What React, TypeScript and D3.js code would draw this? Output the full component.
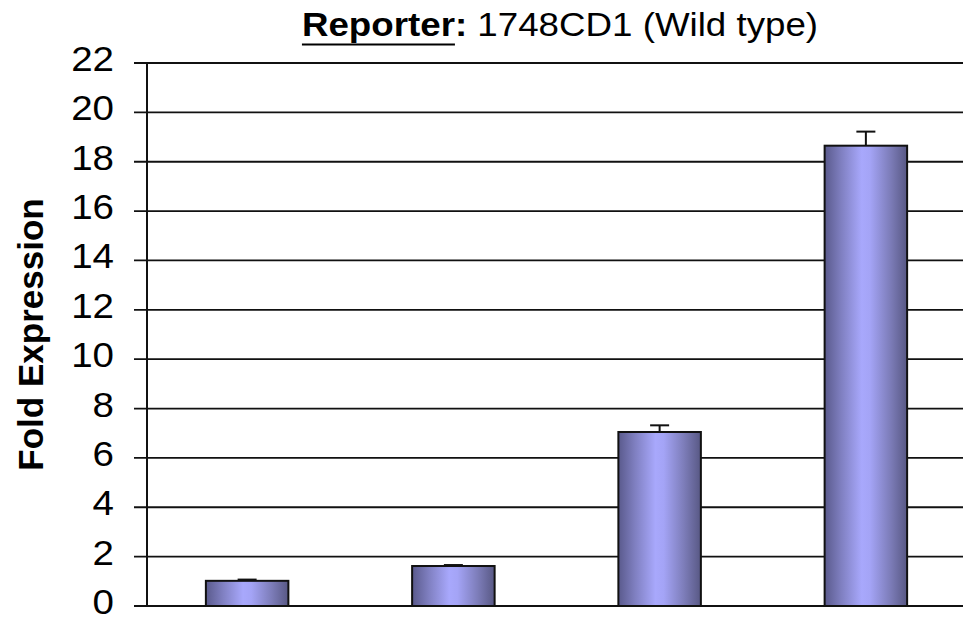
import React, { useLayoutEffect, useRef, useState } from "react";
import { scaleBand, scaleLinear, range } from "d3";

// Fold expression bar chart for the wild type reporter
const categories = ["A", "B", "C", "D"]; // no labels on the x axis
const values = [1.02, 1.62, 7.05, 18.65];
const errors = [0.05, 0.04, 0.27, 0.57];
const yTicks = range(0, 23, 2);

export default function App() {
  const width = 963;
  const height = 622;
  const margin = { top: 63, right: -6, bottom: 16, left: 147 };
  const font = "'Liberation Sans', Arial, Helvetica, sans-serif";

  const x = scaleBand<string>()
    .domain(categories)
    .range([margin.left - 3, width - margin.right])
    .paddingInner(0.6)
    .paddingOuter(0.3);

  const y = scaleLinear()
    .domain([0, 22])
    .range([height - margin.bottom, margin.top]);

  const titleRef = useRef<SVGTextElement>(null);
  const [underline, setUnderline] = useState<[number, number] | null>(null);

  useLayoutEffect(() => {
    const t = titleRef.current;
    if (!t) return;
    // "Reporter" = first 8 characters
    const first = t.getExtentOfChar(0);
    const last = t.getExtentOfChar(7);
    setUnderline([first.x, last.x + last.width]);
  }, []);

  const capW = 19;

  return (
    <svg
      width={width}
      height={height}
      style={{ position: "absolute", left: 0, top: 0, background: "#fff" }}
      fontFamily={font}
    >
      <defs>
        <linearGradient id="barFill" x1="0" x2="1" y1="0" y2="0">
          <stop offset="0%" stopColor="#5a5a8c" />
          <stop offset="20%" stopColor="#7f7fc0" />
          <stop offset="45%" stopColor="#a8a8fc" />
          <stop offset="55%" stopColor="#a4a4f6" />
          <stop offset="80%" stopColor="#7c7cb8" />
          <stop offset="100%" stopColor="#585884" />
        </linearGradient>
      </defs>

      {/* title */}
      <g transform={`translate(560,36) scale(1.08,1)`}>
        <text ref={titleRef} textAnchor="middle" fontSize={34} fill="#000">
          <tspan fontWeight="bold">Reporter:</tspan>
          <tspan> 1748CD1 (Wild type)</tspan>
        </text>
        {underline && (
          <line
            x1={underline[0]}
            x2={underline[1]}
            y1={8.5}
            y2={8.5}
            stroke="#000"
            strokeWidth={1.8}
          />
        )}
      </g>

      {/* y axis label */}
      <text
        transform={`translate(43,${(y(0) + y(22)) / 2}) rotate(-90)`}
        textAnchor="middle"
        fontSize={35}
        fontWeight="bold"
        fill="#000"
      >
        Fold Expression
      </text>

      {/* grid lines and ticks */}
      {yTicks.map((t) => (
        <g key={t}>
          <line
            x1={margin.left - 13}
            x2={width}
            y1={y(t)}
            y2={y(t)}
            stroke="#111"
            strokeWidth={1.8}
          />
          <g transform={`translate(114,${y(t) + 8}) scale(1.1,1)`}>
            <text textAnchor="end" fontSize={35} fill="#000">
              {t}
            </text>
          </g>
        </g>
      ))}

      {/* y axis line */}
      <line
        x1={margin.left}
        x2={margin.left}
        y1={y(22)}
        y2={y(0)}
        stroke="#111"
        strokeWidth={2}
      />

      {/* bars */}
      {categories.map((c, i) => {
        const bx = x(c) ?? 0;
        const cx = bx + x.bandwidth() / 2;
        return (
          <g key={c}>
            <line
              x1={cx}
              x2={cx}
              y1={y(values[i])}
              y2={y(values[i] + errors[i])}
              stroke="#111"
              strokeWidth={2}
            />
            <line
              x1={cx - capW / 2}
              x2={cx + capW / 2}
              y1={y(values[i] + errors[i])}
              y2={y(values[i] + errors[i])}
              stroke="#111"
              strokeWidth={2}
            />
            <rect
              x={bx}
              y={y(values[i])}
              width={x.bandwidth()}
              height={y(0) - y(values[i])}
              fill="url(#barFill)"
              stroke="#111"
              strokeWidth={2}
            />
          </g>
        );
      })}
    </svg>
  );
}
